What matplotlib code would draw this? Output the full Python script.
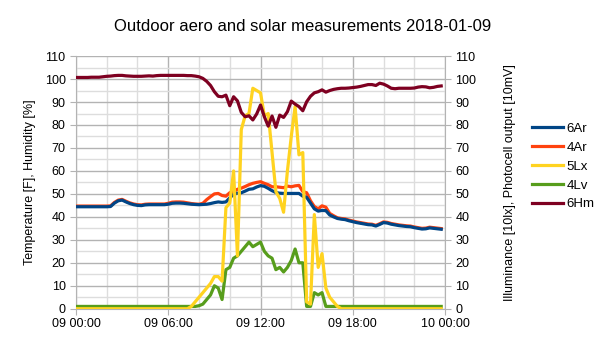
import numpy as np
import pandas as pd
import matplotlib
matplotlib.use("Agg")
import matplotlib.pyplot as plt
import matplotlib.dates as mdates

plt.rcParams['font.family'] = ['Liberation Sans', 'DejaVu Sans']

# 15 minute samples, 2018-01-09 00:00 .. 23:45
times = pd.date_range("2018-01-09 00:00", periods=96, freq="15min")

ar6 = [44.4, 44.4, 44.4, 44.4, 44.4, 44.4, 44.4, 44.4,
       44.4, 44.5, 46.0, 47.0, 47.3, 46.5, 45.8, 45.3,
       45.0, 44.9, 45.2, 45.3, 45.3, 45.3, 45.3, 45.3,
       45.5, 45.9, 46.0, 46.0, 45.9, 45.7, 45.5, 45.4,
       45.3, 45.4, 45.5, 45.8, 46.2, 46.5, 46.3, 46.5,
       48.3, 49.8, 50.3, 50.5, 51.2, 52.0, 52.2, 53.0,
       53.6, 53.3, 52.4, 51.4, 50.6, 50.3, 50.2, 50.2,
       50.2, 50.2, 50.2, 49.0, 48.5, 46.0, 43.5, 42.5,
       42.8, 42.7, 40.8, 40.0, 39.3, 39.0, 38.8, 38.3,
       37.9, 37.5, 37.2, 36.9, 36.6, 36.5, 36.0, 36.7,
       37.5, 37.3, 36.8, 36.5, 36.2, 36.0, 35.8, 35.7,
       35.3, 35.0, 34.7, 34.8, 35.2, 35.0, 34.8, 34.6]

ar4 = [44.7, 44.7, 44.7, 44.7, 44.7, 44.7, 44.7, 44.7,
       44.7, 44.8, 46.3, 47.3, 47.6, 46.8, 46.1, 45.6,
       45.3, 45.2, 45.5, 45.6, 45.6, 45.6, 45.6, 45.6,
       45.9, 46.4, 46.5, 46.5, 46.4, 46.1, 45.8, 45.6,
       45.5, 45.9, 47.5, 48.8, 50.0, 50.2, 49.3, 49.0,
       50.5, 51.0, 52.0, 52.5, 53.2, 54.0, 54.6, 55.0,
       55.3, 54.6, 54.0, 53.1, 53.1, 52.9, 52.7, 53.4,
       53.1, 53.5, 53.7, 51.0, 50.5, 47.0, 44.5, 43.5,
       44.8, 44.2, 41.5, 40.5, 39.6, 39.3, 39.1, 38.6,
       38.2, 37.8, 37.5, 37.2, 36.9, 36.8, 36.3, 37.0,
       37.8, 37.6, 37.1, 36.8, 36.5, 36.3, 36.1, 36.0,
       35.6, 35.3, 35.0, 35.1, 35.5, 35.3, 35.1, 34.9]

lx5 = [0] * 30 + [1, 3,
       5, 7, 9, 11, 14, 14, 12, 44,
       46, 60, 23, 78, 84, 85, 96, 95,
       94, 84, 85, 68, 51, 48, 42, 60,
       75, 88, 67, 68, 3, 2, 41, 18,
       24, 9, 5, 3, 1] + [0] * 27

lv4 = [1] * 32 + [1.3, 2, 4, 6,
       10, 9, 4, 17, 18, 22, 23, 25,
       27, 29, 27, 28, 29, 25, 23, 22,
       17, 18, 16, 18, 21, 26, 20, 20,
       1, 1, 7, 6, 7] + [1] * 31

hm6 = [100.7, 100.7, 100.7, 100.7, 100.8, 100.8, 100.8, 101.0,
       101.2, 101.3, 101.5, 101.6, 101.6, 101.4, 101.3, 101.2,
       101.2, 101.2, 101.3, 101.4, 101.3, 101.5, 101.6, 101.6,
       101.6, 101.6, 101.6, 101.6, 101.6, 101.5, 101.5, 101.3,
       101.0, 100.3, 99.0, 97.2, 94.5, 92.5, 92.3, 93.0,
       88.4, 92.3, 90.5, 85.5, 83.6, 84.0, 82.2, 84.8,
       88.7, 83.6, 79.5, 83.9, 79.0, 84.3, 83.3, 85.8,
       90.4, 89.1, 88.0, 86.2, 90.1, 92.5, 94.0, 94.5,
       95.3, 94.3, 95.0, 95.5, 95.8, 96.0, 96.0, 96.1,
       96.3, 96.5, 96.8, 97.2, 97.6, 97.6, 97.2, 98.2,
       97.8, 97.0, 96.0, 95.8, 96.0, 96.0, 96.0, 96.0,
       96.1, 96.5, 96.7, 96.6, 96.2, 96.4, 96.8, 97.0]

series = [("6Ar", ar6, "#004586"), ("4Ar", ar4, "#ff420e"),
          ("5Lx", lx5, "#ffd320"), ("4Lv", lv4, "#579d1c"),
          ("6Hm", hm6, "#7e0021")]
zorders = {"6Ar": 4, "4Ar": 3, "5Lx": 6, "4Lv": 5, "6Hm": 7}

fig = plt.figure(figsize=(6.05, 3.4), dpi=100)
ax = fig.add_axes([0.1256, 0.092, 0.61, 0.743])

lines = []
for name, vals, col in series:
    ln, = ax.plot(times, vals, color=col, lw=2.3, label=name,
                  zorder=zorders[name], solid_joinstyle='round')
    lines.append(ln)

start = pd.Timestamp("2018-01-09 00:00")
end = pd.Timestamp("2018-01-10 00:00")
ax.set_xlim(start, end)
ax.set_ylim(0, 110)
ax.set_yticks(np.arange(0, 111, 10))
ax.set_yticks(np.arange(0, 111, 5), minor=True)
ax.xaxis.set_major_locator(mdates.HourLocator(byhour=[0, 6, 12, 18]))
ax.xaxis.set_minor_locator(mdates.HourLocator(byhour=range(0, 24, 2)))
ax.xaxis.set_major_formatter(mdates.DateFormatter('%d %H:%M'))

ax.grid(which='major', color='#b3b3b3', lw=1)
ax.grid(which='minor', color='#dddddd', lw=1)
ax.set_axisbelow(True)

for s in ['top', 'right']:
    ax.spines[s].set_visible(False)
for s in ['left', 'bottom']:
    ax.spines[s].set_color('#b3b3b3')
ax.tick_params(which='major', length=4, color='#b3b3b3', labelsize=9)
ax.tick_params(which='minor', length=0)
ax.tick_params(axis='x', pad=3)

ax2 = ax.twinx()
ax2.set_ylim(0, 110)
ax2.set_yticks(np.arange(0, 111, 10))
for s in ['top', 'left', 'bottom']:
    ax2.spines[s].set_visible(False)
ax2.spines['right'].set_color('#b3b3b3')
ax2.tick_params(length=4, color='#b3b3b3', labelsize=9)

ax.set_ylabel("Temperature [F], Humidity [%]", fontsize=9, labelpad=6)
ax2.set_ylabel("Illuminance [10lx], Photocell output [10mV]", fontsize=9, labelpad=20)

fig.suptitle("Outdoor aero and solar measurements 2018-01-09", fontsize=12,
             x=0.5, y=0.945)

fig.legend(handles=lines, loc='center left', bbox_to_anchor=(0.86, 0.51),
           frameon=False, fontsize=9.5, handlelength=2.3, handletextpad=0.3,
           labelspacing=0.5)

fig.savefig("out.png", dpi=100)
